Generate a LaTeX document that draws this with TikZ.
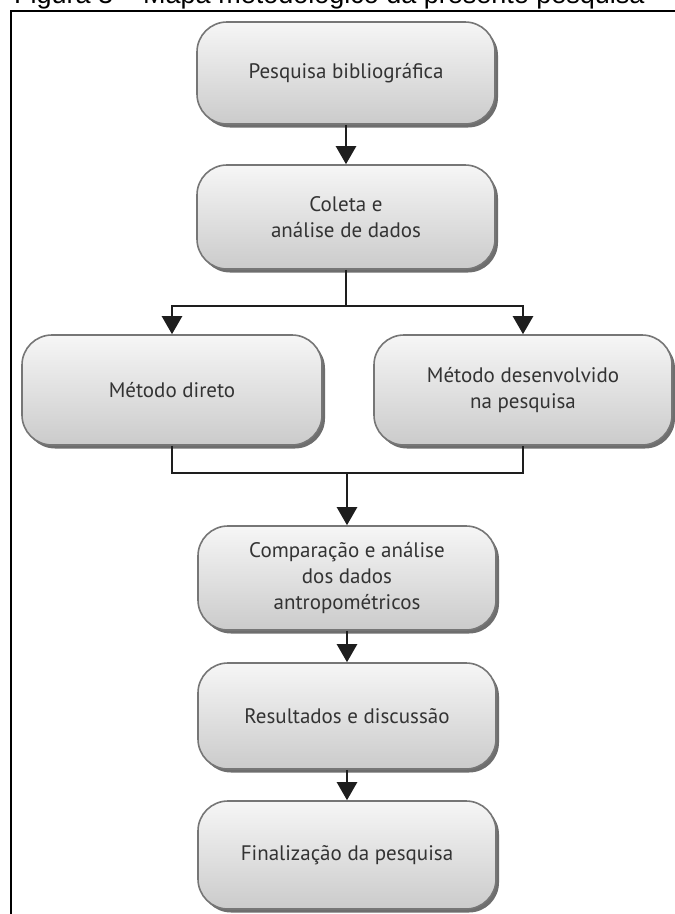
\documentclass[tikz,border=0pt]{standalone}
\usepackage{fontspec}
\setmainfont{Liberation Sans}
\newfontfamily\boxfont{PT Sans}
\usetikzlibrary{arrows.meta,shadows}

\definecolor{boxedge}{HTML}{767676}
\definecolor{boxtop}{HTML}{F6F6F6}
\definecolor{boxbottom}{HTML}{CBCBCB}
\definecolor{boxshade}{HTML}{6E6E6E}
\definecolor{boxtext}{HTML}{333333}
\definecolor{linkcol}{HTML}{1E1E1E}

\tikzset{
  stepbox/.style={
    rectangle, rounded corners=30pt,
    draw=boxedge, line width=1.6pt,
    top color=boxtop, bottom color=boxbottom,
    drop shadow={shadow xshift=3pt, shadow yshift=-3.5pt, opacity=1, fill=boxshade},
    minimum width=298pt, minimum height=104pt,
    align=center, text=boxtext,
    font=\boxfont\fontsize{21}{26}\selectfont
  },
  link/.style={draw=linkcol, line width=2.4pt},
  flow/.style={link, -{Triangle[width=20pt,length=18pt]}},
  frameline/.style={draw=black, line width=2pt}
}

\begin{document}
\begin{tikzpicture}[x=1pt,y=-1pt]
  \useasboundingbox (0,0) rectangle (675,914);
  \clip (0,0) rectangle (675,914);

  % caption above the frame: only its lower edge falls on the page
  \node[overlay, anchor=base west, inner sep=0pt, font=\fontsize{27}{30}\selectfont]
    (caption) at (14,3) {Figura 3 – Mapa metodológico da presente pesquisa};

  % frame around the chart
  \draw[frameline] (11,916) -- (11,11) -- (677,11);

  % steps
  \node[stepbox, minimum height=102pt] (biblio) at (346,73) {Pesquisa bibliográfica};
  \node[stepbox] (coleta) at (346,217) {Coleta e\\análise de dados};
  \node[stepbox, minimum width=300pt, minimum height=110pt] (direto) at (172,390) {Método direto};
  \node[stepbox, minimum height=110pt] (desenv) at (523,390) {Método desenvolvido\\na pesquisa};
  \node[stepbox] (compara) at (347,578) {Comparação e análise\\dos dados\\antropométricos};
  \node[stepbox, minimum height=106pt] (result) at (347,716) {Resultados e discussão};
  \node[stepbox, minimum height=108pt] (final) at (347,855) {Finalização da pesquisa};

  % branching and merging points
  \coordinate (split) at (346,306);
  \coordinate (merge) at (347,473);

  % connectors
  \draw[flow] (biblio.south) -- (coleta.north);
  \draw[link] (coleta.south) -- (split);
  \draw[flow] (split) -| (direto.north);
  \draw[flow] (split) -| (desenv.north);
  \draw[link] (direto.south) |- (merge);
  \draw[link] (merge) -| (desenv.south);
  \draw[flow] (merge) -- (compara.north);
  \draw[flow] (compara.south) -- (result.north);
  \draw[flow] (result.south) -- (final.north);
\end{tikzpicture}
\end{document}
